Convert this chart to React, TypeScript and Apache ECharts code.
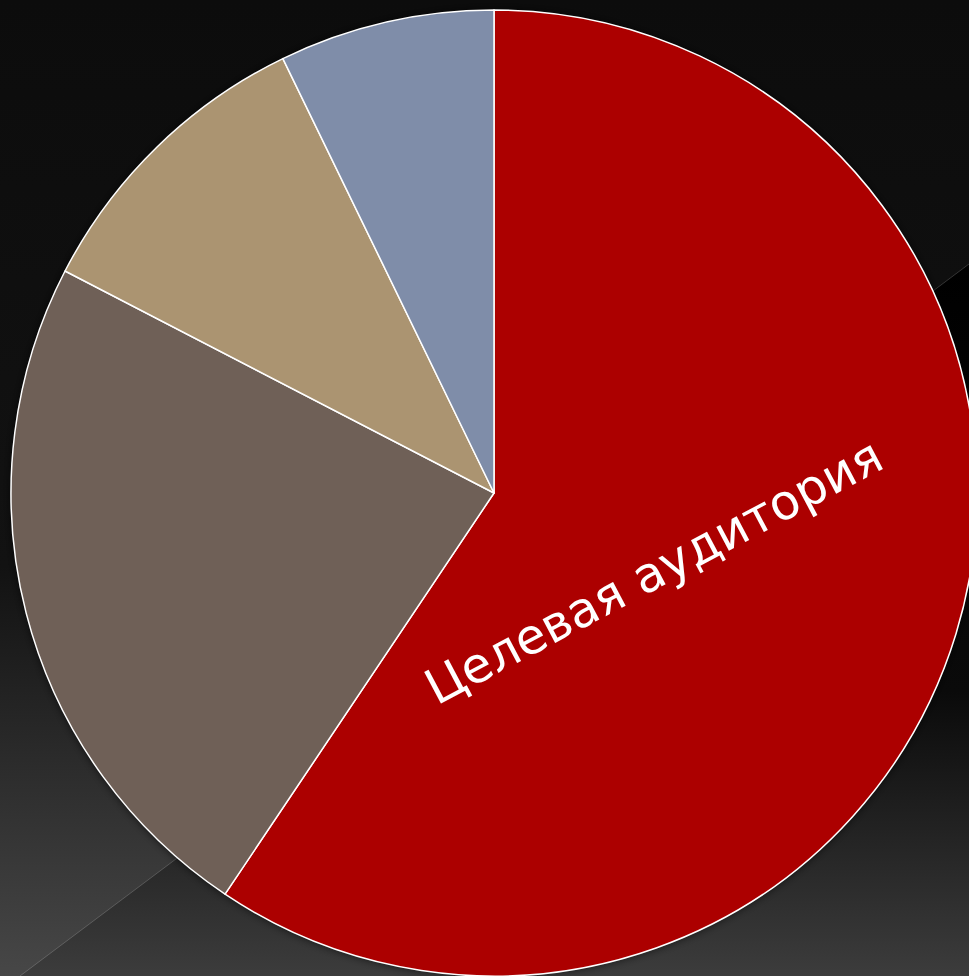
import React, { useEffect, useRef } from "react";
import * as echarts from "echarts";

const categories = ["Целевая аудитория", "Категория 2", "Категория 3", "Категория 4"];
const values = [59.4, 23.2, 10.2, 7.2];
const colors = ["#AC0000", "#6F6057", "#AB9471", "#7F8DA9"];

export default function App() {
  const ref = useRef<HTMLDivElement>(null);
  useEffect(() => {
    document.body.style.margin = "0";
    const chart = echarts.init(ref.current!, null, { renderer: "svg" });
    const W = 969;
    const H = 976;
    const total = values.reduce((a, b) => a + b, 0);
    chart.setOption({
      animation: false,
      graphic: [
        {
          type: "rect",
          z: 0,
          silent: true,
          shape: { x: 0, y: 0, width: W, height: H },
          style: {
            fill: new echarts.graphic.LinearGradient(0, 0, 0, 1, [
              { offset: 0, color: "#0c0c0c" },
              { offset: 0.58, color: "#121212" },
              { offset: 1, color: "#474747" },
            ]),
          },
        },
        {
          type: "polygon",
          z: 0,
          silent: true,
          shape: { points: [[20, H], [W, 264], [W, H]] },
          style: {
            fill: new echarts.graphic.LinearGradient(0, 0, 0, 1, [
              { offset: 0, color: "#000000" },
              { offset: 0.6, color: "#0a0a0a" },
              { offset: 1, color: "#3c3c3c" },
            ]),
          },
        },
        {
          type: "line",
          z: 0,
          silent: true,
          shape: { x1: 20, y1: H, x2: W, y2: 264 },
          style: { stroke: "rgba(255,255,255,0.18)", lineWidth: 1 },
        },
      ],
      series: [
        {
          type: "pie",
          z: 1,
          silent: true,
          center: [494, 493],
          radius: 483,
          label: { show: false },
          labelLine: { show: false },
          emphasis: { disabled: true },
          itemStyle: {
            color: "#000",
            shadowBlur: 10,
            shadowColor: "rgba(0,0,0,0.7)",
          },
          data: [{ name: "total", value: total }],
        },
        {
          type: "pie",
          z: 2,
          center: [494, 493],
          radius: 483,
          startAngle: 90,
          clockwise: true,
          label: { show: false },
          labelLine: { show: false },
          itemStyle: {
            borderColor: "#ffffff",
            borderWidth: 1.5,
          },
          emphasis: { disabled: true },
          labelLayout: { dx: -69, dy: -28 },
          data: categories.map((name, i) => ({
            name,
            value: values[i],
            itemStyle: { color: colors[i] },
            label:
              i === 0
                ? {
                    show: true,
                    position: "inside",
                    rotate: 28,
                    formatter: "{b}",
                    color: "#ffffff",
                    fontSize: 49,
                    fontFamily: "DejaVu Sans",
                    fontWeight: "normal",
                  }
                : { show: false },
          })),
        },
      ],
    });
    return () => chart.dispose();
  }, []);
  return <div ref={ref} style={{ width: 969, height: 976 }} />;
}
